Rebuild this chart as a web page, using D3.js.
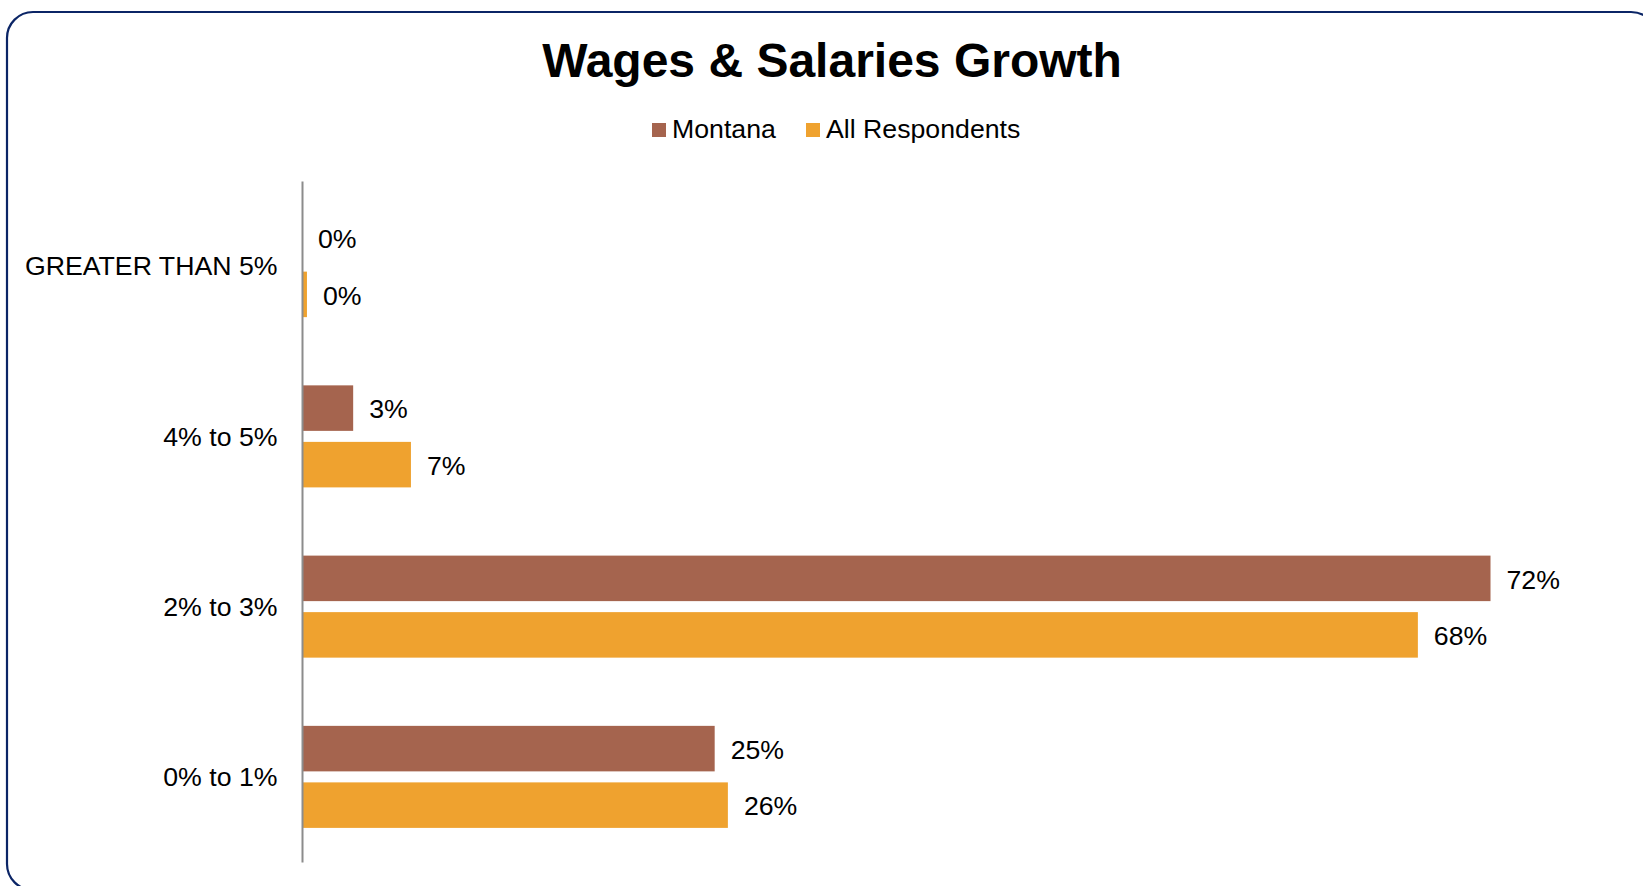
<!DOCTYPE html>
<html>
<head>
<meta charset="utf-8">
<script src="https://cdn.jsdelivr.net/npm/d3@7"></script>
<style>
  html, body { margin: 0; padding: 0; background: #ffffff; }
  svg { display: block; font-family: Arial, "Liberation Sans", sans-serif; }
</style>
</head>
<body>
<svg id="chart" width="1643" height="886"></svg>
<script>
// Survey answers, top to bottom
const categories = ["GREATER THAN 5%", "4% to 5%", "2% to 3%", "0% to 1%"];
const seriesNames = ["Montana", "All Respondents"];
const montana = [0.0, 0.031, 0.72, 0.25];
const allRespondents = [0.003, 0.066, 0.676, 0.258];
const seriesColors = ["#a5644e", "#efa22f"];
const titleText = "Wages & Salaries Growth";

const svg = d3.select("#chart");

// Rounded frame
svg.append("rect")
  .attr("x", 7).attr("y", 12)
  .attr("width", 1650).attr("height", 878)
  .attr("rx", 26).attr("ry", 26)
  .attr("fill", "#ffffff")
  .attr("stroke", "#0b2566")
  .attr("stroke-width", 2.2);

// Title
svg.append("text")
  .attr("x", 832).attr("y", 77)
  .attr("text-anchor", "middle")
  .attr("font-size", 48)
  .attr("font-weight", "bold")
  .attr("fill", "#000")
  .text(titleText);

// Legend
const legendItems = [
  { name: seriesNames[0], color: seriesColors[0], x: 652 },
  { name: seriesNames[1], color: seriesColors[1], x: 806 }
];
const lg = svg.append("g");
legendItems.forEach(it => {
  lg.append("rect").attr("x", it.x).attr("y", 123).attr("width", 14).attr("height", 14).attr("fill", it.color);
  lg.append("text").attr("x", it.x + 20).attr("y", 138).attr("font-size", 26.7).attr("fill", "#000").text(it.name);
});

// Scales
const x0 = 302;
const x = d3.scaleLinear().domain([0, 0.8]).range([x0, x0 + 0.8 * 1650.7]);
const y = d3.scaleBand().domain(categories).range([181, 862]).paddingInner(0).paddingOuter(0);
const ySub = d3.scaleBand().domain(seriesNames).range([0, y.bandwidth()])
  .paddingInner(0.1947).paddingOuter(0.6035);

const rows = categories.map((c, i) => ({
  category: c,
  values: [
    { series: seriesNames[0], value: montana[i], color: seriesColors[0] },
    { series: seriesNames[1], value: allRespondents[i], color: seriesColors[1] }
  ]
}));

const fmt = d3.format(".0%");

const groups = svg.append("g").selectAll("g.group")
  .data(rows).join("g")
  .attr("class", "group")
  .attr("transform", d => `translate(0,${y(d.category)})`);

groups.selectAll("rect")
  .data(d => d.values).join("rect")
  .attr("x", x(0))
  .attr("y", d => ySub(d.series))
  .attr("width", d => x(d.value) - x(0))
  .attr("height", ySub.bandwidth())
  .attr("fill", d => d.color);

groups.selectAll("text.val")
  .data(d => d.values).join("text")
  .attr("class", "val")
  .attr("x", d => x(d.value) + 16)
  .attr("y", d => ySub(d.series) + ySub.bandwidth() / 2)
  .attr("dy", "0.38em")
  .attr("font-size", 26.7)
  .attr("fill", "#000")
  .text(d => fmt(d.value));

// Category axis
const axis = svg.append("g")
  .attr("transform", `translate(${x0},0)`)
  .call(d3.axisLeft(y).tickSize(0).tickSizeOuter(0).tickPadding(24.5));
axis.select(".domain").attr("stroke", "#8c8c8c").attr("stroke-width", 2);
axis.selectAll(".tick text")
  .attr("font-size", 26.7)
  .attr("font-family", "Arial, 'Liberation Sans', sans-serif")
  .attr("fill", "#000")
  .attr("dy", "0.35em");
</script>
</body>
</html>
